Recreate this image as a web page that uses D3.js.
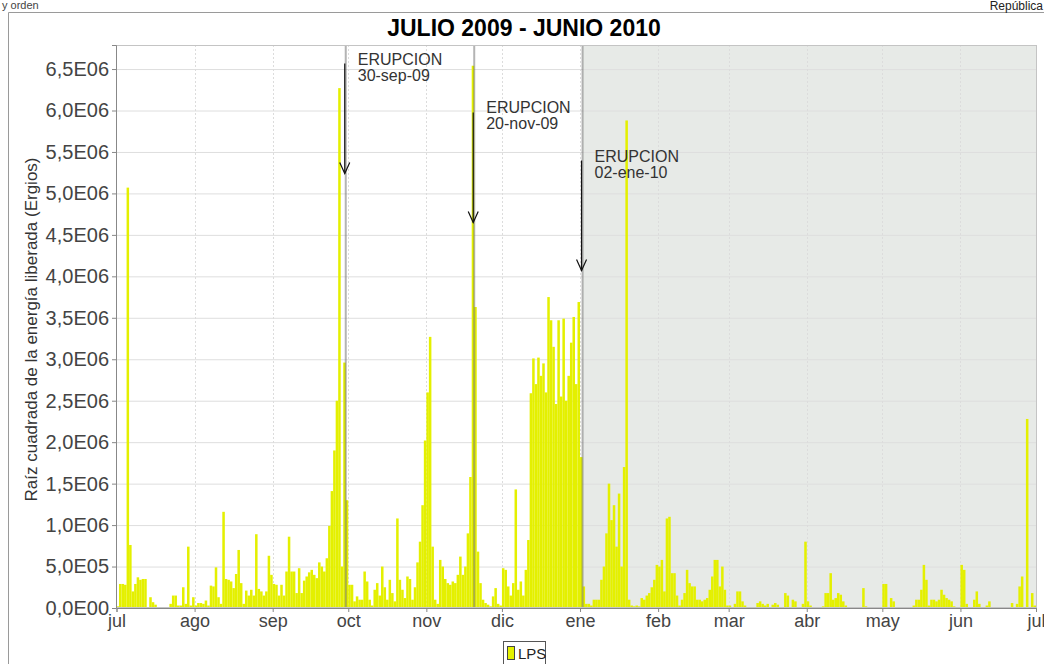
<!DOCTYPE html>
<html><head><meta charset="utf-8">
<script src="https://cdn.jsdelivr.net/npm/d3@7"></script>
<style>
html,body{margin:0;padding:0;background:#fff;overflow:hidden;}
svg{display:block;font-family:"Liberation Sans",Arial,sans-serif;}
</style></head><body>
<svg id="c" width="1044" height="664"></svg>
<script>
// ---- DATA (daily LPS values, in units of 1E05 ergios^1/2) ----
const seriesName = "LPS";
const startDate = "2009-07-01";
const endDate = "2010-07-01";
const valueUnit = 1e5;
const jul09 = [0.2,2.9,2.9,2.8,50.7,7.6,2.0,2.9,3.7,3.4,3.5,3.5,0,1.3,0.7,0.4,0,0,0,0,0,0.5,1.5,1.5,0.3,0.3,2.5,0.5,7.4,0.3,1.3];
const ago09 = [0.3,0.6,0.6,0.5,0.9,0.3,2.7,2.6,4.9,1.3,0.5,11.6,3.5,3.4,3.2,2.4,4.1,7.0,3.0,0.5,2.1,1.5,2.2,1.5,8.9,2.3,2.0,1.5,2.0,6.3,4.0];
const sep09 = [2.9,2.8,1.5,2.8,1.5,4.4,8.6,4.4,4.4,1.8,4.8,1.8,3.3,3.8,4.3,4.6,4.0,3.6,5.5,5.0,4.4,6.0,9.9,14.1,19.0,25.0,62.7,5.0,29.6,13.0];
const oct09 = [2.8,2.8,0.8,1.4,1.0,1.0,4.4,3.2,1.0,0.3,2.2,3.0,1.5,5.0,2.5,1.0,3.4,1.8,0.8,10.8,3.4,2.2,1.2,3.8,3.5,1.0,2.5,5.5,8.0,12.4,20.2];
const nov09 = [26.0,32.7,7.4,1.0,0.5,5.8,5.0,3.5,3.0,2.8,3.2,3.0,4.0,6.2,4.0,5.0,9.0,15.8,65.4,36.3,6.8,3.0,1.0,0.6,0.4,0.2,1.4,2.4,0.5,0.3];
const dic09 = [4.8,4.6,2.6,1.5,3.0,14.3,2.2,3.2,1.5,4.6,8.2,25.9,30.1,27.0,30.2,28.0,29.5,26.0,37.5,34.7,31.5,24.6,34.7,25.5,34.9,25.0,28.0,32.0,35.1,27.0,36.9];
const ene10 = [18.2,2.6,0.5,0.5,0.3,1.0,1.0,1.0,3.4,5.0,9.0,15.0,10.6,12.4,7.4,13.8,5.0,17.0,58.8,1.0,0.3,0.2,0.3,0.2,1.2,1.0,1.5,1.8,2.5,3.4,5.2];
const feb10 = [5.0,5.8,2.0,10.8,11.0,4.2,4.2,1.5,0.3,1.0,1.8,4.6,3.0,2.6,2.6,1.0,1.0,0.8,1.0,1.2,2.2,3.8,5.8,5.8,2.6,5.0,2.2,0.3];
const mar10 = [0.3,0,0.5,2.0,2.0,0.8,0.3,0,0,0,0,0.6,0.8,0.5,0.3,0.5,0,0.4,0.6,0.4,0,0,1.8,1.5,0,1.0,0.8,0,0,0.5,8.0];
const abr10 = [0.8,0.3,0,0,0,0,0.2,1.8,1.8,4.2,1.0,1.2,1.8,1.6,0.8,0.3,0,0,0,0,0,0,2.4,0.2,0,0,0,0,0,0];
const may10 = [2.9,2.9,0,1.2,0.8,0,0,0,0,0,0,0,0.3,1.0,1.0,2.2,5.2,3.4,0.3,1.0,1.0,0.8,1.0,2.2,1.6,1.2,1.0,0.8,0.2,0,0];
const jun10 = [5.2,4.6,0.5,0,0,1.0,2.0,0.5,0,0,0.3,0.8,0,0,0,0,0,0,0,0,0.6,0,0.5,2.6,3.8,0,22.8,0,1.8,0.3];

const monthTickLabels = ["jul","ago","sep","oct","nov","dic","ene","feb","mar","abr","may","jun","jul"];
const yTickValues = [0,5e5,1e6,1.5e6,2e6,2.5e6,3e6,3.5e6,4e6,4.5e6,5e6,5.5e6,6e6,6.5e6];
const yTickLabels = ["0,0E00","5,0E05","1,0E06","1,5E06","2,0E06","2,5E06","3,0E06","3,5E06","4,0E06","4,5E06","5,0E06","5,5E06","6,0E06","6,5E06"];
const yMax = 6.79e6;

const eruptionDates = ["2009-09-30","2009-11-20","2010-01-02"];
const eruptionLabels = [["ERUPCION","30-sep-09"],["ERUPCION","20-nov-09"],["ERUPCION","02-ene-10"]];
const eruptionArrowTips = [5.24e6, 4.65e6, 4.07e6];
const shadeStart = "2010-01-02";

const titleText = "JULIO 2009 - JUNIO 2010";
const yAxisTitle = "Raíz cuadrada de la energía liberada (Ergios)";

// ---- CHART ----
const parse = d3.timeParse("%Y-%m-%d");
const t0 = parse(startDate), t1 = parse(endDate);
const allVals = [].concat(jul09,ago09,sep09,oct09,nov09,dic09,ene10,feb10,mar10,abr10,may10,jun10);
const data = allVals.map((v,i)=>({date:d3.timeDay.offset(t0,i), value:v*valueUnit}));

const P = {left:116, right:1037, top:45, bottom:608};
const x = d3.scaleTime().domain([t0,t1]).range([P.left+0.5, P.right-1]);
const y = d3.scaleLinear().domain([0,yMax]).range([P.bottom, P.top]);
const barColor = "#e4f000";

const svg = d3.select("#c");

// outer frame and header texts
svg.append("path").attr("d",`M8.5,664 V12.5 H1044`).attr("fill","none").attr("stroke","#9a9a9a");
svg.append("text").attr("x",2).attr("y",9).attr("font-size",11).attr("fill","#444").text("y orden");
svg.append("text").attr("x",1043).attr("y",10).attr("text-anchor","end").attr("font-size",12).attr("fill","#222").text("República");

// title
svg.append("text").attr("x",524).attr("y",36).attr("text-anchor","middle")
  .attr("font-size",23).attr("font-weight","bold").attr("fill","#000").text(titleText);

// plot background
svg.append("rect").attr("x",P.left).attr("y",P.top).attr("width",P.right-P.left).attr("height",P.bottom-P.top)
  .attr("fill","#fff");
// shaded interval
svg.append("rect").attr("x",x(parse(shadeStart))).attr("y",P.top)
  .attr("width",P.right-x(parse(shadeStart))).attr("height",P.bottom-P.top).attr("fill","#e7eae7");

// grid
const monthDates = d3.timeMonth.range(t0, d3.timeDay.offset(t1,1));
svg.append("g").selectAll("line").data(yTickValues.slice(1)).join("line")
  .attr("x1",P.left).attr("x2",P.right).attr("y1",d=>y(d)+0.5).attr("y2",d=>y(d)+0.5)
  .attr("stroke","#dedede").attr("stroke-width",1);
svg.append("g").selectAll("line").data(monthDates.slice(1,-1)).join("line")
  .attr("x1",d=>Math.round(x(d))+0.5).attr("x2",d=>Math.round(x(d))+0.5).attr("y1",P.top).attr("y2",P.bottom)
  .attr("stroke","#dcdcdc").attr("stroke-dasharray","2,2");

// bars
const step = x(d3.timeDay.offset(t0,1)) - x(t0);
svg.append("g").selectAll("rect").data(data.filter(d=>d.value>0)).join("rect")
  .attr("x",d=>x(d.date)).attr("width",step)
  .attr("y",d=>y(d.value)).attr("height",d=>P.bottom-y(d.value))
  .attr("fill",barColor);

// eruption markers
svg.append("g").selectAll("line").data(eruptionDates).join("line")
  .attr("x1",d=>x(parse(d))).attr("x2",d=>x(parse(d))).attr("y1",P.top).attr("y2",P.bottom)
  .attr("stroke","#6a6a6a").attr("stroke-opacity",0.5).attr("stroke-width",2);

// plot border
svg.append("rect").attr("x",P.left+0.5).attr("y",P.top+0.5).attr("width",P.right-P.left-1).attr("height",P.bottom-P.top-1)
  .attr("fill","none").attr("stroke","#c4c4c4");

// arrows + labels
const arrowLen = 110;
eruptionDates.forEach((ds,i)=>{
  const ax = x(parse(ds)) - 1;
  const tipY = y(eruptionArrowTips[i]);
  const g = svg.append("g");
  g.append("line").attr("x1",ax).attr("x2",ax).attr("y1",tipY-arrowLen).attr("y2",tipY)
    .attr("stroke","#111").attr("stroke-width",1.2);
  g.append("path").attr("d",`M${ax-5},${tipY-11} L${ax},${tipY} L${ax+5},${tipY-11}`)
    .attr("fill","none").attr("stroke","#111").attr("stroke-width",1.2);
  const tx = g.append("text").attr("x",ax+13).attr("y",tipY-arrowLen+1).attr("font-size",16).attr("fill","#333");
  eruptionLabels[i].forEach((ln,j)=>{
    tx.append("tspan").attr("x",ax+13).attr("dy",j===0?0:16).text(ln);
  });
});

// axes
const yAxis = d3.axisLeft(y).tickValues(yTickValues).tickFormat((d,i)=>yTickLabels[i]).tickSize(4).tickPadding(3);
const gy = svg.append("g").attr("transform",`translate(${P.left},0)`).call(yAxis);
const xAxis = d3.axisBottom(x).tickValues(monthDates).tickFormat((d,i)=>monthTickLabels[i]).tickSize(4).tickPadding(2);
const gx = svg.append("g").attr("transform",`translate(0,${P.bottom})`).call(xAxis);
[gy,gx].forEach(g=>{
  g.select(".domain").attr("stroke","#888");
  g.selectAll(".tick line").attr("stroke","#888");
  g.selectAll(".tick text").attr("fill","#444").attr("font-family","Liberation Sans, Arial, sans-serif");
});
gy.selectAll(".tick text").attr("font-size",20);
gx.selectAll(".tick text").attr("font-size",18);
gx.selectAll(".tick text").filter((d,i,n)=>i===n.length-1).attr("text-anchor","end").attr("dx","0.5em");

// y axis title
svg.append("text").attr("transform",`translate(37,${(P.top+P.bottom)/2+3}) rotate(-90)`)
  .attr("text-anchor","middle").attr("font-size",17).attr("fill","#333").text(yAxisTitle);

// legend
const lg = svg.append("g");
lg.append("rect").attr("x",503.5).attr("y",641.5).attr("width",42).attr("height",30).attr("fill","#fff").attr("stroke","#555");
lg.append("rect").attr("x",507.5).attr("y",646.5).attr("width",7).attr("height",13).attr("fill",barColor).attr("stroke","#444");
lg.append("text").attr("x",518).attr("y",659).attr("font-size",15).attr("fill","#222").text(seriesName);
</script>
</body></html>
